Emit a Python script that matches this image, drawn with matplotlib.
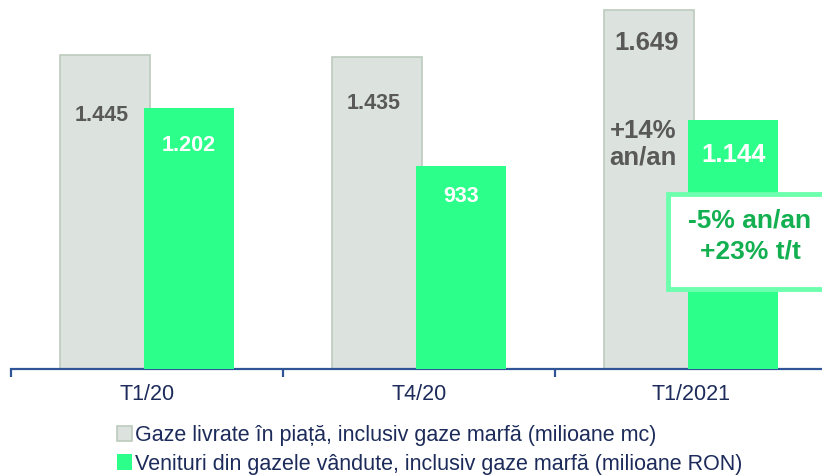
import matplotlib.pyplot as plt
import numpy as np
from matplotlib.patches import Patch, Rectangle

# Date din grafic
perioade = ['T1/20', 'T4/20', 'T1/2021']
gaze_livrate = [1445, 1435, 1649]      # milioane mc
venituri = [1202, 933, 1144]           # milioane RON
etichete_gaze = ['1.445', '1.435', '1.649']
etichete_venituri = ['1.202', '933', '1.144']

legenda = ['Gaze livrate în piață, inclusiv gaze marfă (milioane mc)',
           'Venituri din gazele vândute, inclusiv gaze marfă (milioane RON)']

gri = '#dce3de'
gri_margine = '#bccbbe'
verde = '#2cff8a'
verde_text = '#12b050'
bleumarin = '#1c2b5a'
text_gri = '#595959'

plt.rcParams['font.family'] = ['Liberation Sans', 'DejaVu Sans']

fig = plt.figure(figsize=(8.22, 4.75), dpi=100)
# axa incepe la x=11px si se termina dupa marginea din dreapta
ax = fig.add_axes([11 / 822, 1 - 369 / 475, 816 / 822, 369 / 475])

x = np.arange(len(perioade))
w = 0.33
ax.bar(x - 0.155, gaze_livrate, w, color=gri, edgecolor=gri_margine, linewidth=1.2, zorder=2)
ax.bar(x + 0.155, venituri, w, color=verde, edgecolor='none', zorder=3)

ax.set_xlim(-0.5, 2.5)
ax.set_ylim(0, 1697)

for s in ['top', 'right', 'left']:
    ax.spines[s].set_visible(False)
ax.spines['bottom'].set_color('#2f5597')
ax.spines['bottom'].set_linewidth(1.6)
ax.set_yticks([])

ax.set_xticks(x)
ax.set_xticklabels(perioade, fontsize=15.5, color=bleumarin)
ax.tick_params(axis='x', which='major', length=0, pad=11)
ax.set_xticks([-0.5, 0.5, 1.5], minor=True)
ax.tick_params(axis='x', which='minor', length=6, width=1.6, color='#2f5597')

# etichete pe bare (decalaj in pixeli sub varful barei)
dec_gaze = [61, 47, 33]
dec_ven = [38, 30, 35]
mari = [15.5, 15.5, 18.5]
for i in range(len(perioade)):
    ax.annotate(etichete_gaze[i], (x[i] - 0.165, gaze_livrate[i]), xytext=(0, -dec_gaze[i]),
                textcoords='offset pixels', ha='center', va='center',
                fontsize=mari[i], fontweight='bold', color=text_gri, zorder=5)
    ax.annotate(etichete_venituri[i], (x[i] + 0.155, venituri[i]), xytext=(0, -dec_ven[i]),
                textcoords='offset pixels', ha='center', va='center',
                fontsize=mari[i], fontweight='bold', color='white', zorder=5)

ax.annotate('+14%\nan/an', (x[2] - 0.175, gaze_livrate[2]), xytext=(0, -134),
            textcoords='offset pixels', ha='center', va='center', linespacing=1.15,
            fontsize=18.5, fontweight='bold', color=text_gri, zorder=5)

# caseta cu variatia veniturilor
fig.patches.append(Rectangle((668 / 822, 1 - 289 / 475), 0.3, 95 / 475,
                             transform=fig.transFigure, facecolor='white',
                             edgecolor='#6dffad', linewidth=3.5, zorder=10))
fig.text(750 / 822, 1 - 236 / 475, '-5% an/an\n+23% t/t', ha='center', va='center',
         fontsize=19, fontweight='bold', color=verde_text, linespacing=1.4, zorder=11)

# legenda
handles = [Patch(facecolor=gri, edgecolor=gri_margine, linewidth=1.2),
           Patch(facecolor=verde, edgecolor='none')]
fig.legend(handles, legenda, loc='upper left', bbox_to_anchor=(117 / 822, 1 - 425 / 475),
           frameon=False, fontsize=15.5, labelcolor=bleumarin, handlelength=0.7,
           handleheight=0.7, handletextpad=0.15, labelspacing=0.35, borderpad=0,
           borderaxespad=0)

fig.savefig('out.png', dpi=100)
